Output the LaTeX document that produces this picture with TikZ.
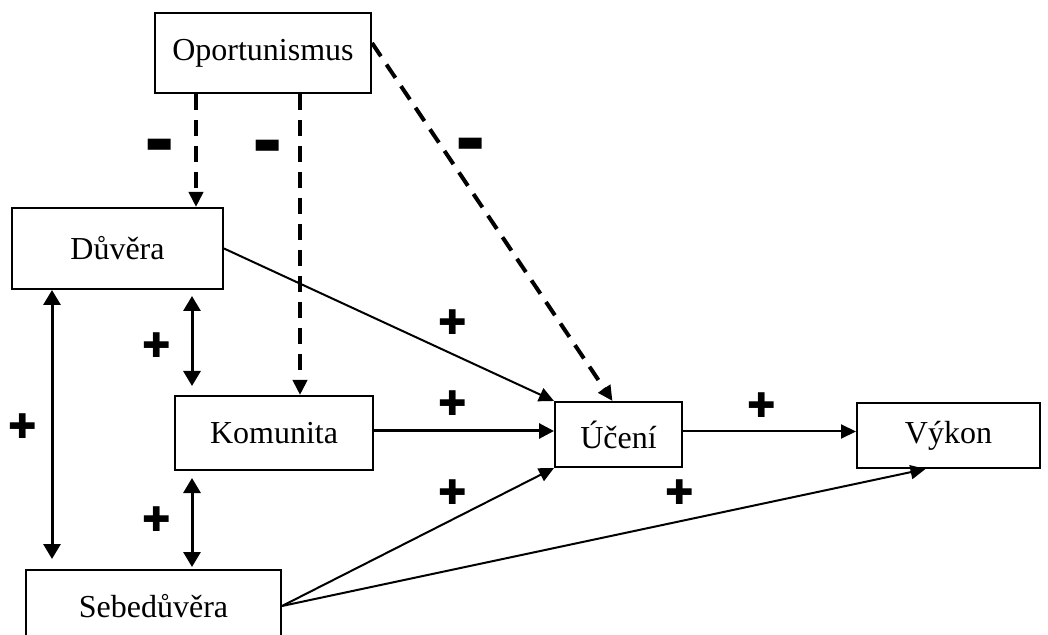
\documentclass[tikz,border=0pt]{standalone}
\usepackage{fontspec}
\setmainfont{Liberation Serif}
\newfontfamily\signfont{DejaVu Sans}
\usetikzlibrary{arrows.meta,calc}

\begin{document}
\begin{tikzpicture}[x=0.5pt,y=-0.5pt,
        box/.style={draw,line width=1pt,inner sep=0pt,font=\fontsize{16}{19}\selectfont},
        poslink/.style={-{Triangle[length=7.5pt,width=7pt]},line width=1pt},
        posthick/.style={-{Triangle[length=7.5pt,width=7.5pt]},line width=1.5pt},
        neglink/.style={-{Triangle[length=7.5pt,width=7pt]},line width=2pt,dash pattern=on 8pt off 5pt},
        bothlink/.style={{Triangle[length=7.5pt,width=8.5pt]}-{Triangle[length=7.5pt,width=8.5pt]},line width=1.5pt},
        plussign/.style={font=\signfont\fontsize{17}{17}\selectfont,inner sep=0pt},
        minussign/.style={font=\signfont\fontsize{15}{15}\selectfont,inner sep=0pt}]
        \useasboundingbox (0,0) rectangle (1048,635);
        \clip (0,0) rectangle (1048,635);

        % boxes
        \node[box,minimum width=108pt,minimum height=40pt] (oport) at (263,53) {Oportunismus};
        \node[box,minimum width=105.5pt,minimum height=40.5pt] (duvera) at (117.5,248.5) {Důvěra};
        \node[box,minimum width=99pt,minimum height=37pt] (komunita) at (274,433) {Komunita};
        \node[box,minimum width=63.5pt,minimum height=32.5pt] (uceni) at (618.5,434.5) {Účení};
        \node[box,minimum width=91.5pt,minimum height=32.5pt] (vykon) at (948.5,435.5) {Výkon};
        \node[box,minimum width=127.5pt,minimum height=36pt] (sebe) at (153.5,606) {Sebedůvěra};

        % dashed (negative) links
        \coordinate (o1) at ($(oport.south)+(-67,0)$);
        \coordinate (o2) at ($(oport.south)+(37,0)$);
        \draw [neglink] (o1) -- (o1 |- duvera.north);
        \draw [neglink] (o2) -- (o2 |- komunita.north);
        \draw [neglink] ($(oport.east)+(0,-10)$) -- ($(uceni.north)+(-6,0)$);

        % solid (positive) links
        \coordinate (k3) at ($(komunita.east)+(0,-2)$);
        \coordinate (u1) at ($(uceni.east)+(0,-3)$);
        \draw [poslink] (duvera.east) -- (uceni.north west);
        \draw [posthick] (k3) -- (k3 -| uceni.west);
        \draw [poslink] (sebe.east) -- (uceni.south west);
        \draw [poslink] (sebe.east) -- ($(vykon.south)+(-23,0)$);
        \draw [poslink] (u1) -- (u1 -| vykon.west);

        % two-way links
        \coordinate (d1) at ($(duvera.south west)+(41,0)$);
        \coordinate (k1) at ($(komunita.north west)+(18,0)$);
        \coordinate (k2) at ($(komunita.south west)+(18,0)$);
        \draw [bothlink,shorten >=5pt] (d1) -- (d1 |- sebe.north);
        \draw [bothlink,shorten <=3pt,shorten >=4.5pt] (k1 |- duvera.south) -- (k1);
        \draw [bothlink,shorten <=3.5pt,shorten >=1pt] (k2) -- (k2 |- sebe.north);

        % signs
        \node[minussign] (m1) at (160,146) {▬};
        \node[minussign] (m2) at (268,147) {▬};
        \node[minussign] (m3) at (471,145) {▬};
        \node[plussign] (p1) at (157,345) {✚};
        \node[plussign] (p2) at (23,426) {✚};
        \node[plussign] (p3) at (157,519) {✚};
        \node[plussign] (p4) at (453,322) {✚};
        \node[plussign] (p5) at (453,403) {✚};
        \node[plussign] (p6) at (453,492) {✚};
        \node[plussign] (p7) at (762,405) {✚};
        \node[plussign] (p8) at (680,492) {✚};
    \end{tikzpicture}
\end{document}
